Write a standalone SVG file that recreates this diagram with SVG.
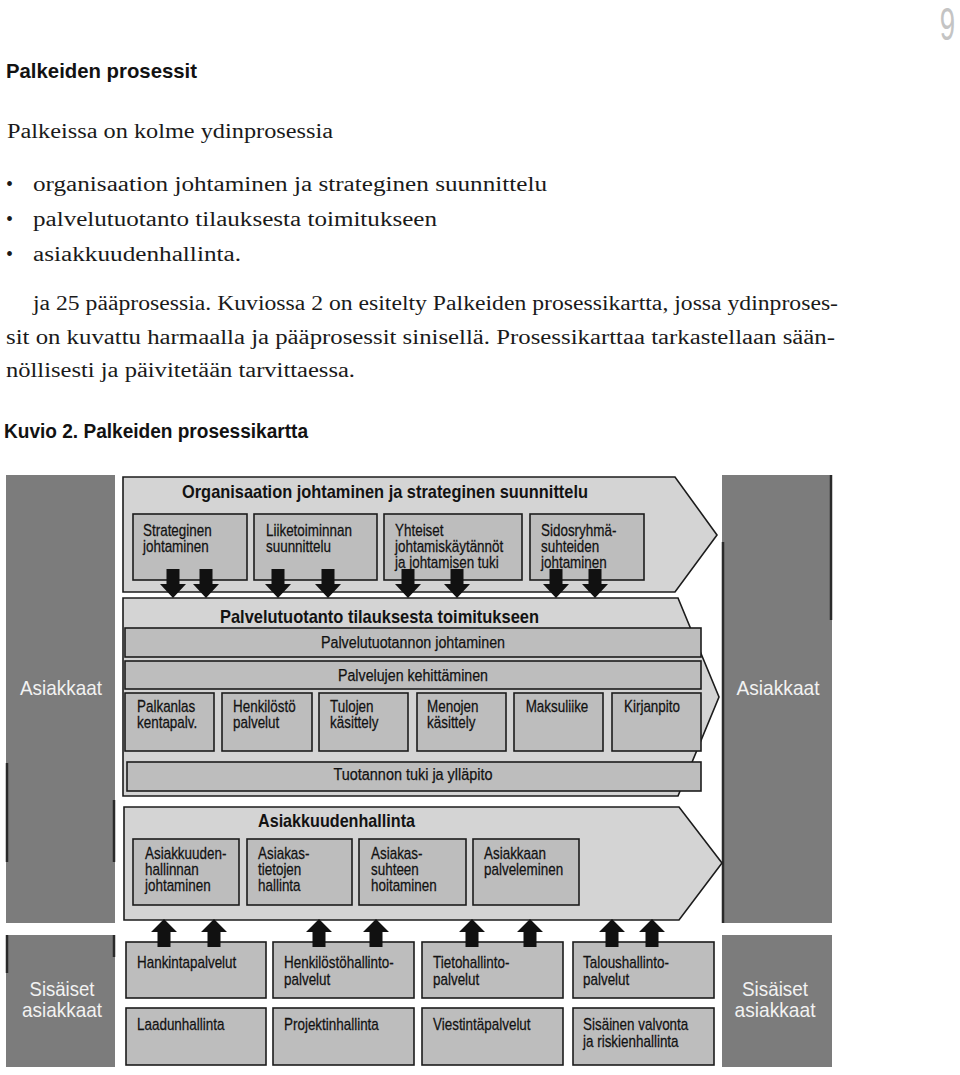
<svg xmlns="http://www.w3.org/2000/svg" width="960" height="1075" viewBox="0 0 960 1075">
<style>
.chev{fill:#d4d4d4;stroke:#1c1c1c;stroke-width:1.6}
.box{fill:#bdbdbd;stroke:#1c1c1c;stroke-width:1.6}
.col{fill:#7c7c7c}
.edge{stroke:#2a2a2a;stroke-width:2.5}
.arr{fill:#111}
.sans{font-family:"Liberation Sans",Arial,sans-serif;fill:#121212}
.bt{font-size:16px;stroke:#121212;stroke-width:0.25}
.ti{font-size:19px;font-weight:bold}
.ct{font-size:21px;fill:#f2f2f2}
.serif{font-family:"Liberation Serif","Times New Roman",serif;font-size:20px;fill:#1a1a1a}
</style>
<defs>
<path id="dn" d="M-6.5,0 h13 v15 h6.5 L0,29 L-13,15 h6.5 z"/>
<path id="up" d="M0,0 L13,13 h-6.5 v15 h-13 v-15 h-6.5 z"/>
</defs>
<rect width="960" height="1075" fill="#ffffff"/>

<g id="page-text">
<text class="sans" x="0" y="0" text-anchor="end" font-size="46" style="fill:#c4c4c4" transform="translate(955,40) scale(0.6,1)">9</text>
<text class="sans" x="6" y="78" font-size="21" font-weight="bold" textLength="191" lengthAdjust="spacingAndGlyphs">Palkeiden prosessit</text>
<text class="serif" x="7" y="138" textLength="326" lengthAdjust="spacingAndGlyphs">Palkeissa on kolme ydinprosessia</text>
<text class="serif" x="6" y="191" font-size="16">•</text>
<text class="serif" x="33" y="191" textLength="514" lengthAdjust="spacingAndGlyphs">organisaation johtaminen ja strateginen suunnittelu</text>
<text class="serif" x="6" y="226" font-size="16">•</text>
<text class="serif" x="33" y="226" textLength="404" lengthAdjust="spacingAndGlyphs">palvelutuotanto tilauksesta toimitukseen</text>
<text class="serif" x="6" y="261" font-size="16">•</text>
<text class="serif" x="33" y="261" textLength="208" lengthAdjust="spacingAndGlyphs">asiakkuudenhallinta.</text>
<text class="serif" x="33" y="310" textLength="805" lengthAdjust="spacingAndGlyphs">ja 25 pääprosessia. Kuviossa 2 on esitelty Palkeiden prosessikartta, jossa ydinproses-</text>
<text class="serif" x="6" y="344" textLength="829" lengthAdjust="spacingAndGlyphs">sit on kuvattu harmaalla ja pääprosessit sinisellä. Prosessikarttaa tarkastellaan sään-</text>
<text class="serif" x="6" y="377" textLength="349" lengthAdjust="spacingAndGlyphs">nöllisesti ja päivitetään tarvittaessa.</text>
<text class="sans" x="4" y="438" font-size="20" font-weight="bold" textLength="304" lengthAdjust="spacingAndGlyphs">Kuvio 2. Palkeiden prosessikartta</text>
</g>

<g id="asiakkaat-left">
<rect class="col" x="6" y="475" width="109" height="448"/>
<line class="edge" x1="7" y1="763" x2="7" y2="862"/>
<line class="edge" x1="114" y1="800" x2="114" y2="862"/>
<text class="sans ct" x="61" y="695" text-anchor="middle" textLength="82" lengthAdjust="spacingAndGlyphs">Asiakkaat</text>
</g>
<g id="asiakkaat-right">
<rect class="col" x="722" y="475" width="110" height="448"/>
<line class="edge" x1="723" y1="542" x2="723" y2="923"/>
<line class="edge" x1="831" y1="475" x2="831" y2="620"/>
<text class="sans ct" x="778" y="695" text-anchor="middle" textLength="83" lengthAdjust="spacingAndGlyphs">Asiakkaat</text>
</g>
<g id="sisaiset-left">
<rect class="col" x="6" y="935" width="109" height="132"/>
<line class="edge" x1="7" y1="935" x2="7" y2="973"/>
<line class="edge" x1="114" y1="935" x2="114" y2="957"/>
<text class="sans ct" x="62" y="996" font-size="20" text-anchor="middle" textLength="65" lengthAdjust="spacingAndGlyphs">Sisäiset</text>
<text class="sans ct" x="62" y="1017" font-size="20" text-anchor="middle" textLength="80" lengthAdjust="spacingAndGlyphs">asiakkaat</text>
</g>
<g id="sisaiset-right">
<rect class="col" x="722" y="935" width="110" height="132"/>
<text class="sans ct" x="775" y="996" font-size="20" text-anchor="middle" textLength="66" lengthAdjust="spacingAndGlyphs">Sisäiset</text>
<text class="sans ct" x="775" y="1017" font-size="20" text-anchor="middle" textLength="81" lengthAdjust="spacingAndGlyphs">asiakkaat</text>
</g>

<g id="organisaatio">
<path class="chev" d="M123,477 L675,477 L717,535 L675,592 L123,592 Z"/>
<text class="sans ti" x="182" y="498" textLength="406" lengthAdjust="spacingAndGlyphs">Organisaation johtaminen ja strateginen suunnittelu</text>
</g>
<g id="strateginen-johtaminen">
<rect class="box" x="133" y="514" width="114" height="66"/>
<text class="sans bt" transform="translate(143,536) scale(0.84,1)"><tspan x="0">Strateginen</tspan><tspan x="0" dy="16">johtaminen</tspan></text>
</g>
<g id="liiketoiminnan-suunnittelu">
<rect class="box" x="254" y="514" width="123" height="66"/>
<text class="sans bt" transform="translate(266,536) scale(0.84,1)"><tspan x="0">Liiketoiminnan</tspan><tspan x="0" dy="16">suunnittelu</tspan></text>
</g>
<g id="yhteiset">
<rect class="box" x="384" y="514" width="138" height="66"/>
<text class="sans bt" transform="translate(395,536) scale(0.84,1)"><tspan x="0">Yhteiset</tspan><tspan x="0" dy="16">johtamiskäytännöt</tspan><tspan x="0" dy="16">ja johtamisen tuki</tspan></text>
</g>
<g id="sidosryhma">
<rect class="box" x="530" y="514" width="114" height="66"/>
<text class="sans bt" transform="translate(541,536) scale(0.84,1)"><tspan x="0">Sidosryhmä-</tspan><tspan x="0" dy="16">suhteiden</tspan><tspan x="0" dy="16">johtaminen</tspan></text>
</g>

<g id="palvelutuotanto">
<path class="chev" d="M123,598 L678,598 L719,697 L678,796 L123,796 Z"/>
<text class="sans ti" x="220" y="623" textLength="319" lengthAdjust="spacingAndGlyphs">Palvelutuotanto tilauksesta toimitukseen</text>
</g>
<g id="palvelutuotannon-johtaminen">
<rect class="box" x="125" y="628" width="576" height="29"/>
<text class="sans bt" x="413" y="648" text-anchor="middle" textLength="184" lengthAdjust="spacingAndGlyphs">Palvelutuotannon johtaminen</text>
</g>
<g id="palvelujen-kehittaminen">
<rect class="box" x="125" y="661" width="576" height="28"/>
<text class="sans bt" x="413" y="681" text-anchor="middle" textLength="150" lengthAdjust="spacingAndGlyphs">Palvelujen kehittäminen</text>
</g>
<g id="palkanlaskenta">
<rect class="box" x="125" y="693" width="89" height="58"/>
<text class="sans bt" transform="translate(137,712) scale(0.84,1)"><tspan x="0">Palkanlas</tspan><tspan x="0" dy="16">kentapalv.</tspan></text>
</g>
<g id="henkilostopalvelut">
<rect class="box" x="222" y="693" width="90" height="58"/>
<text class="sans bt" transform="translate(233,712) scale(0.84,1)"><tspan x="0">Henkilöstö</tspan><tspan x="0" dy="16">palvelut</tspan></text>
</g>
<g id="tulojen-kasittely">
<rect class="box" x="319" y="693" width="89" height="58"/>
<text class="sans bt" transform="translate(330,712) scale(0.84,1)"><tspan x="0">Tulojen</tspan><tspan x="0" dy="16">käsittely</tspan></text>
</g>
<g id="menojen-kasittely">
<rect class="box" x="417" y="693" width="89" height="58"/>
<text class="sans bt" transform="translate(427,712) scale(0.84,1)"><tspan x="0">Menojen</tspan><tspan x="0" dy="16">käsittely</tspan></text>
</g>
<g id="maksuliike">
<rect class="box" x="514" y="693" width="89" height="58"/>
<text class="sans bt" text-anchor="middle" transform="translate(557,712) scale(0.84,1)">Maksuliike</text>
</g>
<g id="kirjanpito">
<rect class="box" x="612" y="693" width="89" height="58"/>
<text class="sans bt" text-anchor="middle" transform="translate(652,712) scale(0.84,1)">Kirjanpito</text>
</g>
<g id="tuotannon-tuki">
<rect class="box" x="127" y="762" width="574" height="29"/>
<text class="sans bt" x="413" y="780" text-anchor="middle" textLength="159" lengthAdjust="spacingAndGlyphs">Tuotannon tuki ja ylläpito</text>
</g>

<g id="asiakkuudenhallinta">
<path class="chev" d="M124,807 L679,807 L722,863 L679,920 L124,920 Z"/>
<text class="sans ti" x="258" y="827" textLength="157" lengthAdjust="spacingAndGlyphs">Asiakkuudenhallinta</text>
</g>
<g id="asiakkuudenhallinnan-johtaminen">
<rect class="box" x="133" y="839" width="106" height="66"/>
<text class="sans bt" transform="translate(145,859) scale(0.84,1)"><tspan x="0">Asiakkuuden-</tspan><tspan x="0" dy="16">hallinnan</tspan><tspan x="0" dy="16">johtaminen</tspan></text>
</g>
<g id="asiakastietojen-hallinta">
<rect class="box" x="247" y="839" width="105" height="66"/>
<text class="sans bt" transform="translate(258,859) scale(0.84,1)"><tspan x="0">Asiakas-</tspan><tspan x="0" dy="16">tietojen</tspan><tspan x="0" dy="16">hallinta</tspan></text>
</g>
<g id="asiakassuhteen-hoitaminen">
<rect class="box" x="359" y="839" width="107" height="66"/>
<text class="sans bt" transform="translate(371,859) scale(0.84,1)"><tspan x="0">Asiakas-</tspan><tspan x="0" dy="16">suhteen</tspan><tspan x="0" dy="16">hoitaminen</tspan></text>
</g>
<g id="asiakkaan-palveleminen">
<rect class="box" x="473" y="839" width="106" height="66"/>
<text class="sans bt" transform="translate(484,859) scale(0.84,1)"><tspan x="0">Asiakkaan</tspan><tspan x="0" dy="16">palveleminen</tspan></text>
</g>

<g id="hankintapalvelut">
<rect class="box" x="126" y="942" width="140" height="56"/>
<text class="sans bt" transform="translate(137,968) scale(0.84,1)">Hankintapalvelut</text>
</g>
<g id="henkilostohallintopalvelut">
<rect class="box" x="273" y="942" width="141" height="56"/>
<text class="sans bt" transform="translate(284,968) scale(0.84,1)"><tspan x="0">Henkilöstöhallinto-</tspan><tspan x="0" dy="17">palvelut</tspan></text>
</g>
<g id="tietohallintopalvelut">
<rect class="box" x="422" y="942" width="141" height="56"/>
<text class="sans bt" transform="translate(433,968) scale(0.84,1)"><tspan x="0">Tietohallinto-</tspan><tspan x="0" dy="17">palvelut</tspan></text>
</g>
<g id="taloushallintopalvelut">
<rect class="box" x="573" y="942" width="141" height="56"/>
<text class="sans bt" transform="translate(583,968) scale(0.84,1)"><tspan x="0">Taloushallinto-</tspan><tspan x="0" dy="17">palvelut</tspan></text>
</g>
<g id="laadunhallinta">
<rect class="box" x="126" y="1008" width="140" height="57"/>
<text class="sans bt" transform="translate(137,1030) scale(0.84,1)">Laadunhallinta</text>
</g>
<g id="projektinhallinta">
<rect class="box" x="273" y="1008" width="141" height="57"/>
<text class="sans bt" transform="translate(284,1030) scale(0.84,1)">Projektinhallinta</text>
</g>
<g id="viestintapalvelut">
<rect class="box" x="422" y="1008" width="141" height="57"/>
<text class="sans bt" transform="translate(433,1030) scale(0.84,1)">Viestintäpalvelut</text>
</g>
<g id="sisainen-valvonta">
<rect class="box" x="573" y="1008" width="141" height="57"/>
<text class="sans bt" transform="translate(583,1030) scale(0.84,1)"><tspan x="0">Sisäinen valvonta</tspan><tspan x="0" dy="17">ja riskienhallinta</tspan></text>
</g>

<g id="connectors" class="arr">
<use href="#dn" x="173" y="569"/>
<use href="#dn" x="206" y="569"/>
<use href="#dn" x="278" y="569"/>
<use href="#dn" x="328" y="569"/>
<use href="#dn" x="408" y="569"/>
<use href="#dn" x="457" y="569"/>
<use href="#dn" x="556" y="569"/>
<use href="#dn" x="595" y="569"/>
<use href="#up" x="164" y="919"/>
<use href="#up" x="214" y="919"/>
<use href="#up" x="319" y="919"/>
<use href="#up" x="376" y="919"/>
<use href="#up" x="472" y="919"/>
<use href="#up" x="530" y="919"/>
<use href="#up" x="612" y="919"/>
<use href="#up" x="652" y="919"/>
</g>
</svg>
